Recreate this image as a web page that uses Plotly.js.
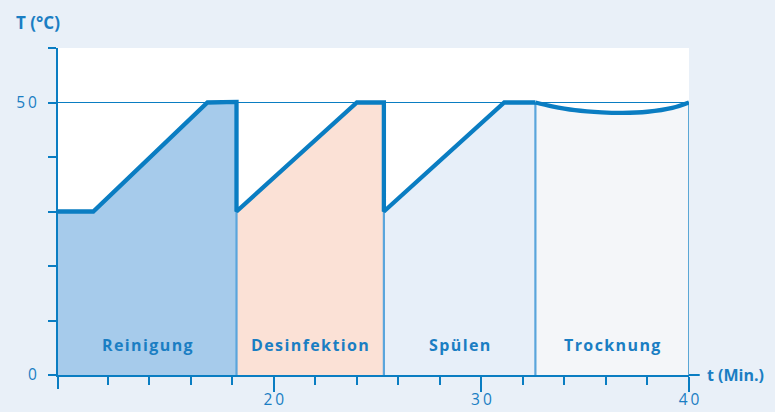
<!DOCTYPE html>
<html><head><meta charset="utf-8">
<script src="https://cdn.plot.ly/plotly-3.0.1.min.js"></script>
<style>html,body{margin:0;padding:0;background:#e9f0f8}</style>
</head><body><div id="chart" style="width:775px;height:412px"></div>
<script>
// ---- data ----
const phaseNames = ["Reinigung", "Desinfektion", "Spülen", "Trocknung"];
const phaseStart = [9.6, 18.2, 25.3, 32.6];
const phaseEnd = [18.2, 25.3, 32.6, 40];
const reinigungTime = [9.6, 11.3, 16.8, 18.2];
const reinigungTemp = [30, 30, 50, 50.1];
const desinfektionTime = [18.2, 24.0, 25.3];
const desinfektionTemp = [30, 50, 50];
const spuelenTime = [25.3, 31.1, 32.6];
const spuelenTemp = [30, 50, 50];
const trocknungTime = [32.6, 33.4, 34.5, 35.8, 36.8, 38.0, 39.2, 40];
const trocknungTemp = [50, 49.3, 48.6, 48.2, 48.1, 48.3, 49.0, 50];
const xMajorTicks = [20, 30, 40];
const xMajorLabels = ["20", "30", "40"];
const xMinorTicks = [12, 14, 16, 18, 22, 24, 26, 28, 32, 34, 36, 38];
const yTicks = [0, 10, 20, 30, 40, 50, 60];
const yTickText = ["0", "", "", "", "", "50", ""];
const refLine = 50;
const labelLevel = 5.5;

// ---- styles ----
const blue = "#0a7dc2";
const textBlue = "#1a7ec3";
const fillColors = ["#a6cbeb", "#fbe1d6", "#e7eff9", "#f4f6f9"];
const font = "Open Sans, Noto Sans, sans-serif";
// letter spacing between characters only (no trailing space)
const spaced = (s, px) => s.length > 1
  ? '<span style="letter-spacing:' + px + 'px">' + s.slice(0, -1) + '</span>' + s.slice(-1)
  : s;

const phaseTimes = [reinigungTime, desinfektionTime, spuelenTime, trocknungTime];
const phaseTemps = [reinigungTemp, desinfektionTemp, spuelenTemp, trocknungTemp];

const traces = [];
phaseTimes.forEach((t, i) => {
  traces.push({
    x: t, y: phaseTemps[i], type: "scatter", mode: "lines",
    fill: "tozeroy", fillcolor: fillColors[i],
    line: {width: 0, color: fillColors[i], shape: i === 3 ? "spline" : "linear"},
    hoverinfo: "skip", showlegend: false
  });
});
const bx = [], by = [];
for (let i = 0; i < 3; i++) {
  bx.push(phaseEnd[i], phaseEnd[i], null);
  by.push(0, phaseTemps[i + 1][0], null);
}
traces.push({x: bx, y: by, type: "scatter", mode: "lines",
  line: {color: "#5aa5dc", width: 2.2}, hoverinfo: "skip", showlegend: false});
traces.push({x: [phaseEnd[3], phaseEnd[3]], y: [0, trocknungTemp[trocknungTemp.length - 1]],
  type: "scatter", mode: "lines", line: {color: blue, width: 1.3}, hoverinfo: "skip", showlegend: false});
const mainX = [].concat(reinigungTime, desinfektionTime, spuelenTime);
const mainY = [].concat(reinigungTemp, desinfektionTemp, spuelenTemp);
traces.push({x: mainX, y: mainY, type: "scatter", mode: "lines",
  line: {color: blue, width: 4.3, shape: "linear"}, showlegend: false});
traces.push({x: trocknungTime, y: trocknungTemp, type: "scatter", mode: "lines",
  line: {color: blue, width: 4.3, shape: "spline", smoothing: 1}, showlegend: false});

const annotations = phaseNames.map((n, i) => ({
  x: (phaseStart[i] + phaseEnd[i]) / 2, y: labelLevel, xref: "x", yref: "y",
  text: spaced(n, 1.4), showarrow: false, xanchor: "center", yanchor: "middle",
  font: {family: font, size: 16, color: textBlue, weight: 700}
}));
annotations.push({xref: "paper", yref: "paper", x: -0.07, y: 1.079, xanchor: "left", yanchor: "middle",
  text: "T (°C)", showarrow: false, font: {family: font, size: 17, color: textBlue, weight: 700}});
annotations.push({xref: "paper", yref: "paper", x: 1.026, y: 0, xanchor: "left", yanchor: "middle",
  text: "t (Min.)", showarrow: false, font: {family: font, size: 16, color: textBlue, weight: 700}});

const layout = {
  width: 775, height: 412,
  margin: {l: 58, r: 86, t: 48, b: 37, pad: 0},
  paper_bgcolor: "#e9f0f8", plot_bgcolor: "#ffffff",
  showlegend: false,
  xaxis: {
    range: [phaseStart[0], phaseEnd[3]], showgrid: false, zeroline: false,
    showline: true, linecolor: blue, linewidth: 2,
    tickmode: "array", tickvals: xMajorTicks, ticktext: xMajorLabels.map(s => spaced(s, 3)),
    ticks: "outside", ticklen: 15, tickwidth: 2, tickcolor: blue,
    minor: {tickmode: "array", tickvals: xMinorTicks, ticks: "outside", ticklen: 8, tickwidth: 2, tickcolor: blue, showgrid: false},
    tickfont: {family: font, size: 15.5, color: textBlue}, ticklabelstandoff: -6
  },
  yaxis: {
    range: [0, 60], showgrid: false, zeroline: false,
    showline: true, linecolor: blue, linewidth: 2,
    tickmode: "array", tickvals: yTicks, ticktext: yTickText.map(s => spaced(s, 3)),
    ticks: "outside", ticklen: 8, tickwidth: 2, tickcolor: blue,
    tickfont: {family: font, size: 15.5, color: textBlue}, ticklabelstandoff: 8
  },
  shapes: [
    {type: "line", xref: "paper", yref: "y", x0: 0, x1: 1, y0: refLine, y1: refLine,
     line: {color: blue, width: 1.2}, layer: "below"},
    {type: "line", xref: "paper", yref: "paper", x0: 1, x1: 1.017, y0: 0, y1: 0,
     line: {color: blue, width: 2}},
    {type: "line", xref: "paper", yref: "paper", x0: 0, x1: 0, y0: 0, y1: -0.043,
     line: {color: blue, width: 2}}
  ],
  annotations: annotations
};

Plotly.newPlot("chart", traces, layout, {displayModeBar: false, staticPlot: true});
</script></body></html>
